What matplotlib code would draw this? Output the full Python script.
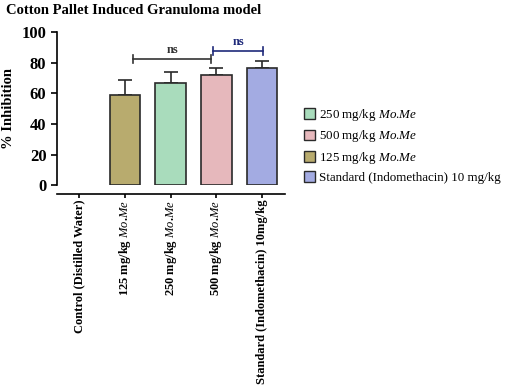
import matplotlib
matplotlib.use("Agg")
import matplotlib.pyplot as plt
from matplotlib.patches import Patch

plt.rcParams["font.family"] = ["Liberation Serif", "DejaVu Serif"]
plt.rcParams["mathtext.fontset"] = "custom"
plt.rcParams["mathtext.it"] = "Liberation Serif:italic"
plt.rcParams["mathtext.rm"] = "Liberation Serif"

MOME = "$\\mathit{Mo}$.$\\mathit{Me}$"
groups = [
    "Control (Distilled Water)",
    "125 mg/kg " + MOME,
    "250 mg/kg " + MOME,
    "500 mg/kg " + MOME,
    "Standard (Indomethacin) 10mg/kg",
]
inhibition = [0, 59, 67, 72, 76.5]
sem = [0, 9.5, 7, 4.5, 4.5]
colors = ["white", "#b8ab6e", "#a9dcbc", "#e6b8bc", "#a3abe2"]

legend_labels = [
    "250 mg/kg " + MOME,
    "500 mg/kg " + MOME,
    "125 mg/kg " + MOME,
    "Standard (Indomethacin) 10 mg/kg",
]
legend_colors = ["#a9dcbc", "#e6b8bc", "#b8ab6e", "#a3abe2"]

# significance brackets: (start, end, height, colour)
brackets = [(1.18, 2.89, 82.5, "#333333"), (2.93, 4.02, 87.5, "#1f2a7a")]

fig = plt.figure(figsize=(5.12, 3.85), dpi=100)
ax = fig.add_axes([0.111, 0.519, 0.446, 0.398])
ax.spines["top"].set_visible(False)
ax.spines["right"].set_visible(False)
ax.spines["left"].set_linewidth(1.2)
ax.spines["bottom"].set_linewidth(1.2)
ax.spines["bottom"].set_position(("outward", 6.5))

x = list(range(len(groups)))
lower = [0] * len(sem)
ax.bar(x[1:], inhibition[1:], width=0.66, color=colors[1:],
       edgecolor="#2a2a2a", linewidth=1.2, zorder=2)
ax.errorbar(x[1:], inhibition[1:], yerr=[lower[1:], sem[1:]], fmt="none",
            ecolor="#2a2a2a", elinewidth=1.2, capsize=5, capthick=1.2, zorder=1)

for x0, x1, h, c in brackets:
    ax.plot([x0, x1], [h, h], color=c, lw=1.2, clip_on=False)
    ax.plot([x0, x0], [h - 2.5, h + 2.5], color=c, lw=1.2, clip_on=False)
    ax.plot([x1, x1], [h - 2.5, h + 2.5], color=c, lw=1.2, clip_on=False)
    ax.text((x0 + x1) / 2, h + 2, "ns", ha="center", va="bottom",
            fontsize=9, fontweight="bold", color=c)

ax.set_xlim(-0.48, 4.5)
ax.set_ylim(0, 100)
ax.tick_params(axis="both", width=1.2, length=4)
ax.tick_params(axis="x", length=3, pad=1)
ax.set_yticks([0, 20, 40, 60, 80, 100])
ax.set_yticklabels(["0", "20", "40", "60", "80", "100"],
                   fontsize=12, fontweight="bold")
ax.set_xticks(x)
ax.set_xticklabels(groups, rotation=90, fontsize=9, fontweight="bold",
                   va="top", ha="center")
ax.set_ylabel("% Inhibition", fontsize=10.5, fontweight="bold", labelpad=5)

fig.text(0.012, 0.99, "Cotton Pallet Induced Granuloma model", ha="left",
         va="top", fontsize=10.5, fontweight="bold")

handles = [Patch(facecolor=c, edgecolor="#2a2a2a", linewidth=1.0)
           for c in legend_colors]
fig.legend(handles, legend_labels, loc="upper left",
           bbox_to_anchor=(0.583, 0.735), frameon=False, fontsize=9.4,
           handlelength=0.9, handleheight=0.9, handletextpad=0.3,
           labelspacing=0.4, borderaxespad=0)

fig.savefig("out.png", dpi=100)
plt.close(fig)
